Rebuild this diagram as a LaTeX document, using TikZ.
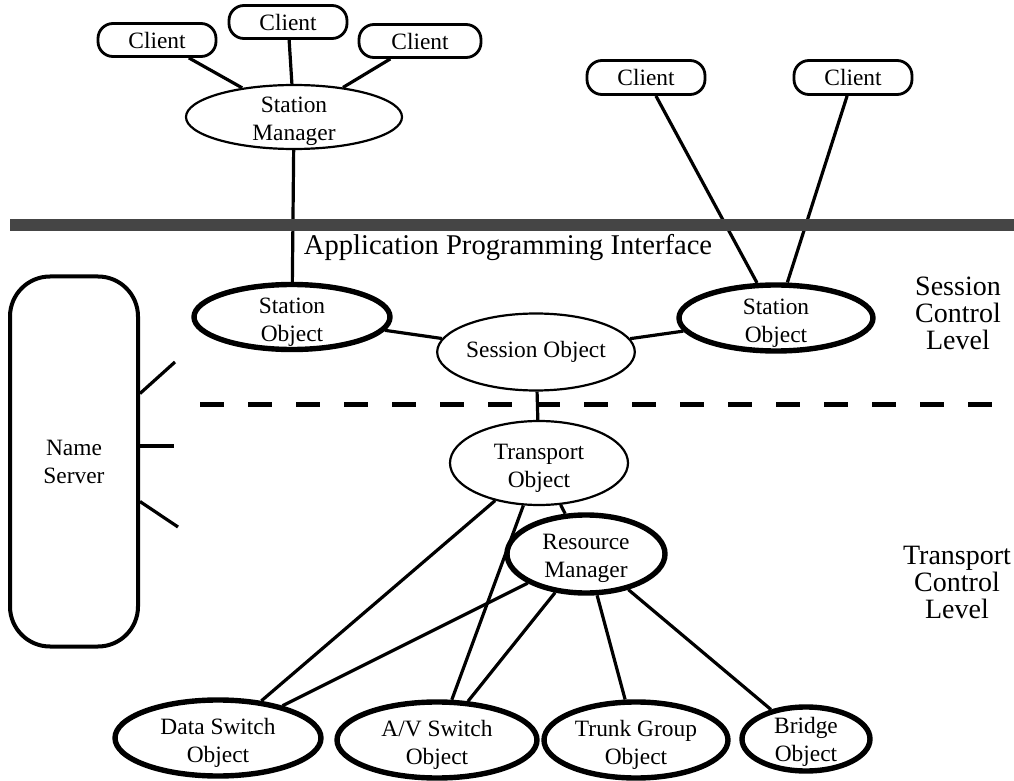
\documentclass[tikz,border=0pt]{standalone}
\usepackage{fontspec}
\setmainfont{Liberation Serif}
\usetikzlibrary{shapes,positioning}

% strut that pushes two-line labels down inside their ellipse
\newcommand\dropstrut[1][12.5pt]{\rule{0pt}{#1}}

\begin{document}
\begin{tikzpicture}[x = 0.5pt, y = -0.5pt,
	every node/.style = {font = \fontsize{11.7}{14}\selectfont, align = center},
	client/.style = {draw, line width = 1.4pt, rounded corners = 7.5pt, fill = white,
		minimum width = 59pt, minimum height = 16.5pt, inner sep = 0pt},
	thinobj/.style = {draw, ellipse, line width = 1.1pt, fill = white,
		inner xsep = 0pt, inner ysep = -5pt},
	thickobj/.style = {thinobj, line width = 2.7pt},
	wire/.style = {line width = 1.6pt},
	level/.style = {font = \fontsize{14}{13.5}\selectfont}]
\useasboundingbox (0,0) rectangle (1014,781);

% clients
\node [client] (c1) at (157,40) {Client};
\node [client] (c2) at (288,22) {Client};
\node [client, minimum width = 61pt] (c3) at (420,41) {Client};
\node [client, minimum height = 17pt] (c4) at (646,77.5) {Client};
\node [client, minimum height = 17pt] (c5) at (853,77.5) {Client};

% session control level
\node [thinobj, minimum width = 108pt, minimum height = 32pt] (sm) at (294,117) {\dropstrut Station\\Manager};
\node [thickobj, minimum width = 98pt, minimum height = 32.5pt] (so1) at (292,317) {\dropstrut Station\\Object};
\node [thickobj, minimum width = 97pt, minimum height = 33pt] (so2) at (776,318) {\dropstrut Station\\Object};
\node [thinobj, minimum width = 97pt, minimum height = 38.5pt] (sess) at (536,352) {Session Object};

% transport control level
\node [thinobj, minimum width = 89pt, minimum height = 42pt] (tro) at (539,463) {\dropstrut Transport\\Object};
\node [thickobj, minimum width = 79pt, minimum height = 39pt] (rm) at (586,554) {\dropstrut Resource\\Manager};
\node [thickobj, minimum width = 103pt, minimum height = 38pt] (ds) at (218,738) {\dropstrut Data Switch\\Object};
\node [thickobj, minimum width = 100pt, minimum height = 38pt] (av) at (437,740) {\dropstrut A/V Switch\\Object};
\node [thickobj, minimum width = 92pt, minimum height = 38pt] (tg) at (636,740) {\dropstrut Trunk Group\\Object};
\node [thickobj, minimum width = 64pt, minimum height = 32pt] (br) at (806,739) {\dropstrut[10.5pt]Bridge\\Object};

% name server
\node [draw, line width = 2pt, rounded corners = 20pt, minimum width = 64pt,
	minimum height = 185pt] (ns) at (74,461.5) {Name\\Server};
\coordinate (n1) at (175,362);
\coordinate (n2) at (174,446);
\coordinate (n3) at (178,527);

% connectors
\foreach \c in {c1,c2,c3}
	\draw [wire] (\c) -- (sm);
\foreach \c in {c4,c5}
	\draw [wire] (\c) -- (so2);
\draw [wire] (sm) -- (so1);
\draw [wire] (so1) -- (sess) -- (so2);
\draw [wire] (sess) -- (tro);
\draw [wire] (tro) -- (rm);
\draw [wire] (tro) -- (ds);
\draw [wire] (tro) -- (av);
\foreach \o in {ds,av,tg,br}
	\draw [wire] (rm) -- (\o);
\draw [wire] ([yshift = 34pt]ns.east) -- (n1);
\draw [wire] ([yshift = 7.75pt]ns.east) -- (n2);
\draw [wire] ([yshift = -20pt]ns.east) -- (n3);

% interface and level boundaries
\fill [black!73] (10,219) rectangle (1014,231);
\draw [line width = 2.5pt, dash pattern = on 12pt off 12pt] (200,405) -- (1000,405);

\node [anchor = base, font = \fontsize{14.3}{16}\selectfont] (api) at (508,255) {Application Programming Interface};
\node [level] (scl) at (958,313) {Session\\Control\\Level};
\node [level] (tcl) at (957,582) {Transport\\Control\\Level};
\end{tikzpicture}
\end{document}
